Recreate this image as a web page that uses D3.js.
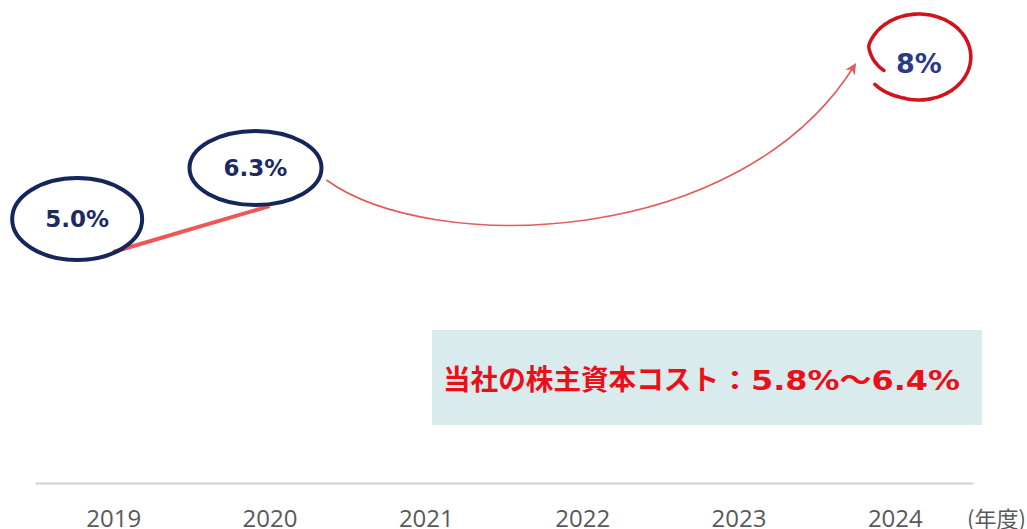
<!DOCTYPE html>
<html lang="ja">
<head>
<meta charset="utf-8">
<script src="https://cdn.jsdelivr.net/npm/d3@7"></script>
<style>
  html, body { margin: 0; padding: 0; background: #ffffff; }
  svg { display: block; }
</style>
</head>
<body>
<svg id="chart" width="1027" height="529"></svg>
<script>
// ---- data ----
const years = [2019, 2020, 2021, 2022, 2023, 2024];
const roeYears = [2019, 2020, 2024];
const roeValues = [5.0, 6.3, 8];
const roeLabels = ["5.0%", "6.3%", "8%"];
const costLabel = "当社の株主資本コスト";
const costRange = "：5.8%～6.4%";
const unitLabel = "(年度)";

// ---- layout ----
const W = 1027, H = 529;
const axisY = 483;
// callout ellipses: offset of the centre from the data point, radii, type size
const calloutOffset = [[-36, -33], [-14, -38], [24, -35]];
const calloutRadius = [[65, 41], [66, 37], [52, 43]];
const calloutFont = [23, 23, 27];
const calloutTextShift = [0, 0, 6];

const svg = d3.select("#chart");

const x = d3.scalePoint().domain(years).range([35, 973]).padding(0.5);
const y = d3.scaleLinear().domain([5, 6.3, 8]).range([252, 206, 92]);

const pts = roeYears.map((yr, i) => ({
  year: yr, value: roeValues[i], label: roeLabels[i],
  px: x(yr), py: y(roeValues[i]),
  cx: x(yr) + calloutOffset[i][0], cy: y(roeValues[i]) + calloutOffset[i][1],
  rx: calloutRadius[i][0], ry: calloutRadius[i][1],
  fs: calloutFont[i], shift: calloutTextShift[i]
}));

// ---- x axis ----
const axis = d3.axisBottom(x).tickSizeInner(0).tickSizeOuter(0).tickPadding(27)
  .tickFormat(d => String(d));
const gx = svg.append("g").attr("transform", `translate(0,${axisY})`).call(axis);
gx.select(".domain").attr("stroke", "#d9d9d9").attr("stroke-width", 2.5);
gx.selectAll(".tick text")
  .attr("fill", "#595959")
  .attr("font-family", "'Open Sans', 'Noto Sans', sans-serif")
  .attr("font-size", 24);
svg.append("text")
  .attr("x", 967).attr("y", axisY + 44)
  .attr("fill", "#595959")
  .attr("font-family", "'Noto Sans CJK JP', sans-serif")
  .attr("font-size", 22)
  .text(unitLabel);

// ---- actual values: thick red segment between the measured years ----
const actual = pts.filter(p => p.year <= 2020);
svg.append("path")
  .datum(actual)
  .attr("fill", "none")
  .attr("stroke", "#ef5757")
  .attr("stroke-width", 4)
  .attr("d", d3.line().x(d => d.px).y(d => d.py));

// ---- target arrow from the latest actual to the 2024 target ----
svg.append("defs").append("marker")
  .attr("id", "arrowHead")
  .attr("viewBox", "0 0 10 10")
  .attr("refX", 8).attr("refY", 5)
  .attr("markerWidth", 7).attr("markerHeight", 7)
  .attr("orient", "auto")
  .append("path").attr("d", "M0,0L10,5L0,10L3,5Z").attr("fill", "#e35b5b");

const from = pts[1], to = pts[2];
const s = [from.cx + from.rx + 5, from.cy + 12];
const e = [to.cx - 64, to.cy + 8];
const arc = d3.path();
arc.moveTo(s[0], s[1]);
arc.bezierCurveTo(s[0] + 103, s[1] + 75, e[0] - 115, e[1] + 185, e[0], e[1]);
svg.append("path")
  .attr("d", arc.toString())
  .attr("fill", "none")
  .attr("stroke", "#e35b5b")
  .attr("stroke-width", 1.6)
  .attr("marker-end", "url(#arrowHead)");

// ---- callouts ----
const actualPts = pts.slice(0, 2);
svg.selectAll("ellipse.callout")
  .data(actualPts)
  .join("ellipse")
  .attr("class", "callout")
  .attr("cx", d => d.cx).attr("cy", d => d.cy)
  .attr("rx", d => d.rx).attr("ry", d => d.ry)
  .attr("fill", "none")
  .attr("stroke", "#16255c")
  .attr("stroke-width", 4);

// hand-drawn open loop around the target
const t = pts[2];
const loopAngles = d3.range(143, -206, -3).map(a => a * Math.PI / 180);
const loopRadius = a => {
  const deg = a * 180 / Math.PI;
  if (deg > 110) return 1.06 - (143 - deg) / 33 * 0.06;
  if (deg < -165) return 1 - (-165 - deg) / 40 * 0.26;
  return 1;
};
svg.append("path")
  .attr("d", d3.line().curve(d3.curveBasis)
    .x(a => t.cx + t.rx * loopRadius(a) * Math.cos(a))
    .y(a => t.cy + t.ry * loopRadius(a) * Math.sin(a))(loopAngles))
  .attr("fill", "none")
  .attr("stroke", "#d3121c")
  .attr("stroke-width", 3.6)
  .attr("stroke-linecap", "round");

svg.selectAll("text.callout")
  .data(pts)
  .join("text")
  .attr("class", "callout")
  .attr("x", d => d.cx)
  .attr("y", d => d.cy + d.shift)
  .attr("dy", "0.36em")
  .attr("text-anchor", "middle")
  .attr("font-family", "'DejaVu Sans', Verdana, sans-serif")
  .attr("font-weight", "bold")
  .attr("font-size", d => d.fs)
  .attr("fill", (d, i) => i === 2 ? "#2b3a8a" : "#1b2b62")
  .text(d => d.label);

// ---- cost of equity box ----
svg.append("rect")
  .attr("x", 432).attr("y", 330)
  .attr("width", 550).attr("height", 95)
  .attr("fill", "#daebee");
const costText = svg.append("text")
  .attr("x", 443).attr("y", 390)
  .attr("fill", "#ea1019")
  .attr("font-weight", 700);
costText.append("tspan")
  .attr("font-family", "'Noto Sans CJK JP', sans-serif")
  .attr("font-size", 28)
  .attr("textLength", 276)
  .attr("lengthAdjust", "spacingAndGlyphs")
  .text(costLabel);
costText.append("tspan")
  .attr("font-family", "'DejaVu Sans', 'Noto Sans CJK JP', sans-serif")
  .attr("font-size", 27)
  .attr("textLength", 241)
  .attr("lengthAdjust", "spacingAndGlyphs")
  .text(costRange);
</script>
</body>
</html>
